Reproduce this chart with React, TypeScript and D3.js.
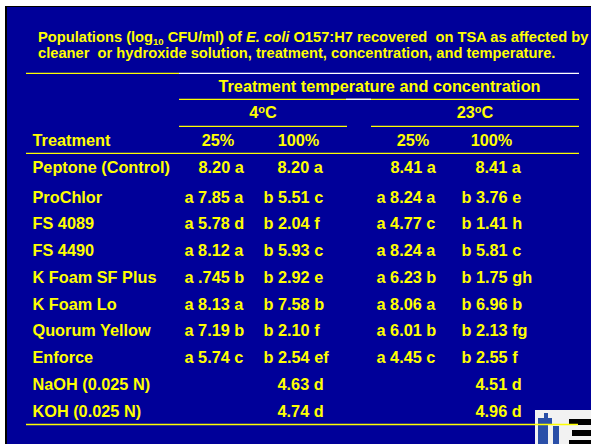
import React from 'react';
import * as d3 from 'd3';

// Table content
const treatments = [
  'Peptone (Control)', 'ProChlor', 'FS 4089', 'FS 4490', 'K Foam SF Plus',
  'K Foam Lo', 'Quorum Yellow', 'Enforce', 'NaOH (0.025 N)', 'KOH (0.025 N)',
];
const temps = ['4\u00B0C', '23\u00B0C'];
const concentrations = ['25%', '100%'];
const cold25 = ['8.20 a', 'a 7.85 a', 'a 5.78 d', 'a 8.12 a', 'a .745 b', 'a 8.13 a', 'a 7.19 b', 'a 5.74 c', '', ''];
const cold100 = ['8.20 a', 'b 5.51 c', 'b 2.04 f', 'b 5.93 c', 'b 2.92 e', 'b 7.58 b', 'b 2.10 f', 'b 2.54 ef', '4.63 d', '4.74 d'];
const warm25 = ['8.41 a', 'a 8.24 a', 'a 4.77 c', 'a 8.24 a', 'a 6.23 b', 'a 8.06 a', 'a 6.01 b', 'a 4.45 c', '', ''];
const warm100 = ['8.41 a', 'b 3.76 e', 'b 1.41 h', 'b 5.81 c', 'b 1.75 gh', 'b 6.96 b', 'b 2.13 fg', 'b 2.55 f', '4.51 d', '4.96 d'];

const W = 591;
const H = 444;
const BLUE = '#000099';
const YELLOW = '#ffff00';
const FONT = '"Liberation Sans", Arial, Helvetica, sans-serif';
const FS = 16.3;

export default function App() {
  const columns = [cold25, cold100, warm25, warm100];

  // column positions (left edge of the prefixed cell text)
  const colX = d3.scaleOrdinal<number, number>().domain([0, 1, 2, 3]).range([184.5, 263.5, 376.5, 461.5]);
  const headX = d3.scaleOrdinal<number, number>().domain([0, 1, 2, 3]).range([218, 298.5, 413, 491.5]);
  const tempX = d3.scaleOrdinal<string, number>().domain(temps).range([263, 475]);

  // row baselines
  const rowY = d3.scaleLinear().domain([1, 9]).range([202.5, 416.5]);
  const yOf = (i: number) => (i === 0 ? 172.7 : rowY(i));

  const cellX = (c: number, s: string) => (/^[ab] /.test(s) ? colX(c) : colX(c) + 14);

  return (
    <svg width={W} height={H} style={{ position: 'absolute', left: 0, top: 0 }}>
      <rect x={0} y={0} width={W} height={H} fill="#ffffff" />
      <rect x={5} y={6} width={W - 5} height={H - 6} fill="#000000" />
      <rect x={7} y={7} width={W - 7} height={H - 7} fill={BLUE} />

      <g fontFamily={FONT} fontWeight="bold" fill={YELLOW}>
        <text x={38} y={42} fontSize={14.7} style={{ whiteSpace: 'pre' }}>
          Populations (log<tspan fontSize={9.5} dy={3}>10</tspan>
          <tspan dy={-3}> CFU/ml) of </tspan>
          <tspan fontStyle="italic">E. coli</tspan> O157:H7 recovered  on TSA as affected by
        </text>
        <text x={38} y={58} fontSize={14.7} style={{ whiteSpace: 'pre' }}>
          cleaner  or hydroxide solution, treatment, concentration, and temperature.
        </text>

        <text x={379.5} y={91.7} fontSize={FS} textAnchor="middle">
          Treatment temperature and concentration
        </text>
        {temps.map(t => (
          <text key={t} x={tempX(t)} y={118.3} fontSize={FS} textAnchor="middle">
            {t.replace('\u00B0C', '')}
            <tspan fontSize={11} dy={-5.5}>o</tspan>
            <tspan dy={5.5}>C</tspan>
          </text>
        ))}

        <text x={32.5} y={145.7} fontSize={FS}>Treatment</text>
        {[0, 1, 2, 3].map(c => (
          <text key={c} x={headX(c)} y={145.7} fontSize={FS} textAnchor="middle">
            {concentrations[c % 2]}
          </text>
        ))}

        {treatments.map((t, i) => (
          <g key={t}>
            <text x={32.5} y={yOf(i)} fontSize={FS}>{t}</text>
            {columns.map((col, c) =>
              col[i] ? (
                <text key={c} x={cellX(c, col[i])} y={yOf(i)} fontSize={FS}>{col[i]}</text>
              ) : null
            )}
          </g>
        ))}
      </g>

      {/* rules */}
      <g strokeWidth={1.3}>
        <line x1={26} x2={179} y1={73.3} y2={73.3} stroke={YELLOW} />
        <line x1={179} x2={579} y1={73.3} y2={73.3} stroke="#ffffff" />
        <line x1={179} x2={579} y1={99.3} y2={99.3} stroke={YELLOW} />
        <line x1={346} x2={371} y1={99.3} y2={99.3} stroke="#ffffff" />
        <line x1={179} x2={347} y1={126.3} y2={126.3} stroke={YELLOW} />
        <line x1={371} x2={579} y1={126.3} y2={126.3} stroke={YELLOW} />
        <line x1={26} x2={579} y1={153.3} y2={153.3} stroke={YELLOW} />
      </g>

      {/* logo */}
      <g>
        <rect x={535} y={410} width={56} height={34} fill="#f2f2f2" />
        <path d="M538,418 h6 v-5 h4 v5 h4 v6 h-4 v20 h-10 z" fill="#2a4fa8" />
        <rect x={553} y={426} width={6} height={18} fill="#2a4fa8" />
        <rect x={569} y={419} width={22} height={6} fill="#000000" />
        <rect x={572} y={430} width={19} height={6} fill="#000000" />
        <rect x={569} y={440} width={22} height={4} fill="#000000" />
      </g>
      <line x1={26} x2={578} y1={424.5} y2={424.5} stroke={YELLOW} strokeWidth={1.3} />
    </svg>
  );
}
